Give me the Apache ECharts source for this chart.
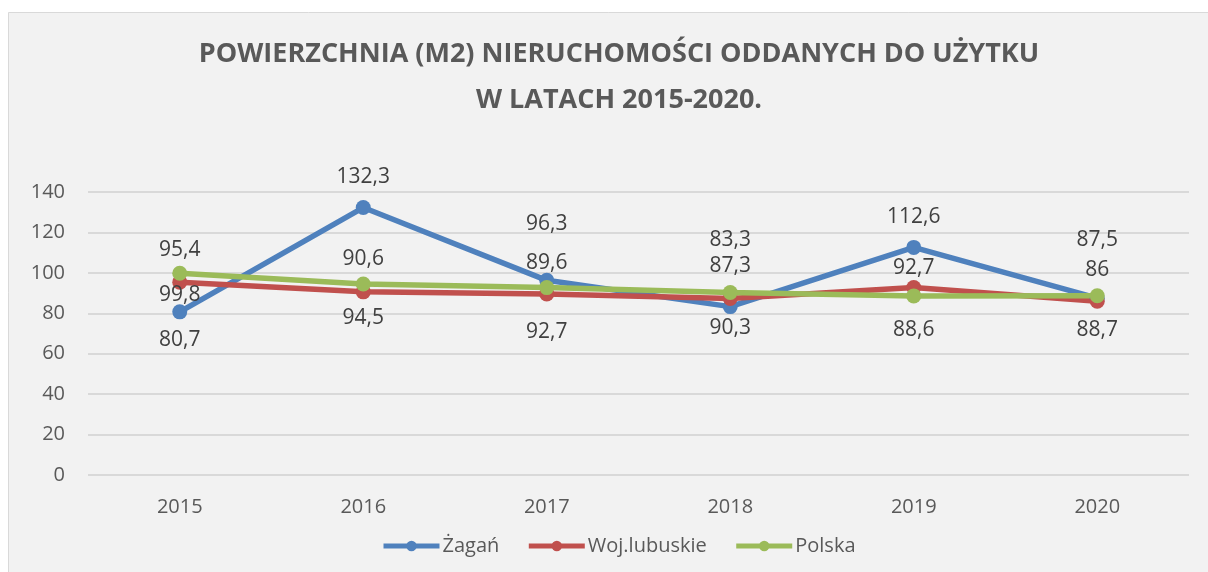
<!DOCTYPE html>
<html>
<head>
<meta charset="utf-8">
<script src="https://cdn.jsdelivr.net/npm/echarts@6/dist/echarts.min.js"></script>
<style>
  html, body { margin: 0; padding: 0; background: #fff; }
  #chart { width: 1208px; height: 572px; }
</style>
</head>
<body>
<div id="chart"></div>
<script>
// dane
const years = ['2015', '2016', '2017', '2018', '2019', '2020']
const zagan = [80.7, 132.3, 96.3, 83.3, 112.6, 87.5]
const lubuskie = [95.4, 90.6, 89.6, 87.3, 92.7, 86]
const polska = [99.8, 94.5, 92.7, 90.3, 88.6, 88.7]

// przesunięcia etykiet (px, względem znacznika)
const zaganShift = [28, -31, -56, -67, -30, -58]
const lubuskieShift = [-32, -33, -31, -33, -20, -31]
const polskaShift = [22, 34, 44, 36, 34, 34]

const FONT = '"Open Sans", sans-serif'

function withLabels(values, shifts) {
  return values.map((v, i) => ({
    value: v,
    label: { position: 'inside', offset: [0, shifts[i]] },
  }))
}

function lineSeries(name, color, values, shifts) {
  return {
    name,
    type: 'line',
    data: withLabels(values, shifts),
    symbol: 'circle',
    symbolSize: 15,
    lineStyle: { width: 5.5, color },
    itemStyle: { color },
    label: {
      show: true,
      color: '#404040',
      fontFamily: FONT,
      fontSize: 21,
      formatter: p => String(p.value).replace('.', ','),
    },
    emphasis: { disabled: true },
  }
}

const myChart = echarts.init(document.getElementById('chart'))
const option = {
  backgroundColor: '#ffffff',
  animation: false,
  graphic: [
    {
      type: 'rect',
      z: -10,
      shape: { x: 8.5, y: 12.5, width: 1215, height: 575 },
      style: { fill: '#f2f2f2', stroke: '#d9d9d9', lineWidth: 1 },
    },
  ],
  title: {
    text: 'POWIERZCHNIA (M2) NIERUCHOMOŚCI ODDANYCH DO UŻYTKU\nW LATACH 2015-2020.',
    left: 614,
    textAlign: 'center',
    top: 26,
    textStyle: {
      fontFamily: FONT,
      fontWeight: 'bold',
      fontSize: 27,
      lineHeight: 46,
      color: '#595959',
    },
  },
  legend: {
    data: ['Żagań', 'Woj.lubuskie', 'Polska'],
    left: 381,
    top: 536,
    padding: 0,
    itemWidth: 56,
    itemHeight: 13,
    itemGap: 27,
    lineStyle: { width: 5 },
    textStyle: { fontFamily: FONT, fontSize: 20, color: '#595959', padding: [0, 0, 0, -2] },
  },
  grid: {
    left: 88,
    right: 19,
    top: 192,
    bottom: 97,
  },
  xAxis: {
    type: 'category',
    data: years,
    axisLine: { show: false },
    axisTick: { show: false },
    axisLabel: { fontFamily: FONT, fontSize: 20, color: '#595959', margin: 22 },
  },
  yAxis: {
    type: 'value',
    min: 0,
    max: 140,
    interval: 20,
    axisLine: { show: false },
    axisTick: { show: false },
    splitLine: { lineStyle: { color: '#d9d9d9', width: 2 } },
    axisLabel: { fontFamily: FONT, fontSize: 20, color: '#595959', margin: 23 },
  },
  series: [
    lineSeries('Żagań', '#4f81bd', zagan, zaganShift),
    lineSeries('Woj.lubuskie', '#c0504d', lubuskie, lubuskieShift),
    lineSeries('Polska', '#9bbb59', polska, polskaShift),
  ],
}
option && myChart.setOption(option)
</script>
</body>
</html>
